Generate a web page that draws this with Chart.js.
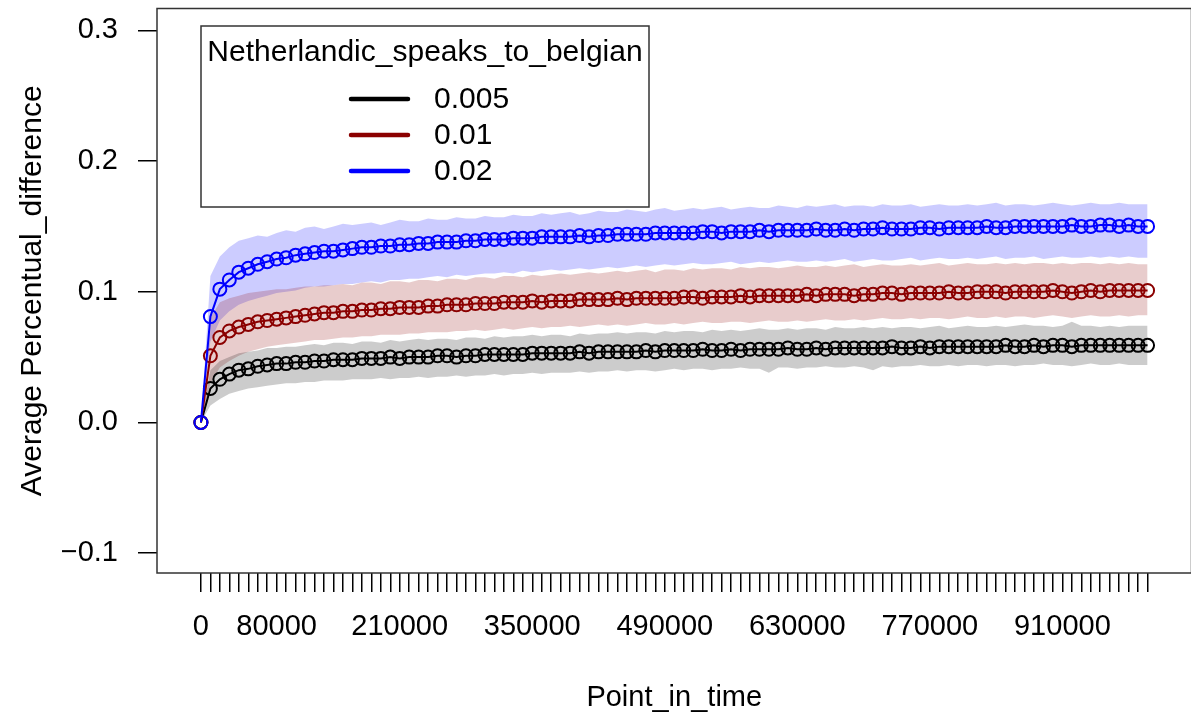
<!DOCTYPE html>
<html>
<head>
<meta charset="utf-8">
<script src="https://cdn.jsdelivr.net/npm/chart.js@4.4.1/dist/chart.umd.min.js"></script>
<style>
html,body{margin:0;padding:0;background:#fff;overflow:hidden;}
#wrap{width:1200px;height:715px;}
</style>
</head>
<body>
<div id="wrap"><canvas id="c" width="1200" height="715"></canvas></div>
<script>
const legendTitle = 'Netherlandic_speaks_to_belgian';
const seriesNames = ['0.005', '0.01', '0.02'];
const xTitle = 'Point_in_time';
const yTitle = 'Average Percentual_difference';

const pointInTime = [
0,10000,20000,30000,40000,50000,60000,70000,80000,90000,
100000,110000,120000,130000,140000,150000,160000,170000,180000,190000,
200000,210000,220000,230000,240000,250000,260000,270000,280000,290000,
300000,310000,320000,330000,340000,350000,360000,370000,380000,390000,
400000,410000,420000,430000,440000,450000,460000,470000,480000,490000,
500000,510000,520000,530000,540000,550000,560000,570000,580000,590000,
600000,610000,620000,630000,640000,650000,660000,670000,680000,690000,
700000,710000,720000,730000,740000,750000,760000,770000,780000,790000,
800000,810000,820000,830000,840000,850000,860000,870000,880000,890000,
900000,910000,920000,930000,940000,950000,960000,970000,980000,990000,
1000000];

const xTickLabels = ['0','80000','210000','350000','490000','630000','770000','910000'];
const yTickValues = [-0.1, 0.0, 0.1, 0.2, 0.3];
const yTickLabels = ['\u22120.1', '0.0', '0.1', '0.2', '0.3'];

const blackMean = [
0,0.026,0.033,0.037,0.040,0.041,0.043,0.044,0.045,0.045,
0.046,0.046,0.047,0.047,0.048,0.048,0.048,0.049,0.049,0.049,
0.050,0.049,0.050,0.050,0.050,0.051,0.051,0.050,0.051,0.051,
0.052,0.052,0.052,0.052,0.052,0.053,0.053,0.053,0.053,0.053,
0.054,0.053,0.054,0.054,0.054,0.054,0.054,0.055,0.054,0.055,
0.055,0.055,0.055,0.056,0.055,0.055,0.056,0.055,0.056,0.056,
0.056,0.056,0.057,0.056,0.056,0.057,0.056,0.057,0.057,0.057,
0.057,0.057,0.057,0.058,0.057,0.057,0.058,0.057,0.058,0.058,
0.058,0.058,0.058,0.058,0.058,0.059,0.058,0.058,0.059,0.058,
0.059,0.059,0.058,0.059,0.059,0.059,0.059,0.059,0.059,0.059,
0.059];
const blackUpper = [
0,0.040,0.047,0.050,0.053,0.054,0.055,0.057,0.057,0.058,
0.058,0.059,0.060,0.059,0.061,0.061,0.060,0.062,0.062,0.061,
0.063,0.062,0.063,0.064,0.063,0.064,0.064,0.063,0.065,0.065,
0.064,0.066,0.065,0.066,0.066,0.067,0.066,0.067,0.067,0.066,
0.068,0.067,0.068,0.068,0.069,0.068,0.069,0.069,0.068,0.070,
0.069,0.070,0.070,0.069,0.071,0.070,0.071,0.070,0.071,0.072,
0.071,0.071,0.072,0.071,0.072,0.072,0.071,0.073,0.072,0.072,
0.073,0.072,0.073,0.072,0.073,0.073,0.072,0.073,0.074,0.072,
0.073,0.074,0.073,0.073,0.074,0.073,0.074,0.075,0.074,0.074,
0.073,0.074,0.077,0.074,0.074,0.073,0.074,0.073,0.074,0.074,
0.074];
const blackLower = [
0,0.013,0.018,0.022,0.024,0.026,0.027,0.028,0.029,0.030,
0.030,0.031,0.031,0.032,0.032,0.032,0.033,0.033,0.033,0.034,
0.033,0.034,0.034,0.035,0.034,0.035,0.035,0.036,0.035,0.036,
0.036,0.037,0.036,0.037,0.037,0.038,0.037,0.038,0.038,0.038,
0.039,0.038,0.039,0.039,0.040,0.039,0.040,0.040,0.039,0.040,
0.041,0.040,0.041,0.041,0.040,0.041,0.041,0.042,0.041,0.041,
0.038,0.042,0.042,0.041,0.042,0.042,0.043,0.042,0.042,0.043,
0.042,0.040,0.043,0.042,0.043,0.043,0.044,0.043,0.043,0.044,
0.043,0.044,0.044,0.043,0.044,0.044,0.043,0.044,0.044,0.045,
0.044,0.044,0.043,0.044,0.045,0.044,0.044,0.045,0.044,0.044,
0.044];

const redMean = [
0,0.051,0.065,0.070,0.073,0.075,0.077,0.078,0.079,0.080,
0.081,0.082,0.083,0.084,0.084,0.085,0.085,0.086,0.086,0.087,
0.087,0.088,0.088,0.088,0.089,0.089,0.090,0.090,0.090,0.091,
0.091,0.091,0.092,0.092,0.092,0.093,0.092,0.093,0.093,0.093,
0.094,0.094,0.094,0.094,0.095,0.094,0.095,0.095,0.095,0.095,
0.095,0.096,0.096,0.095,0.096,0.096,0.096,0.097,0.096,0.097,
0.097,0.097,0.097,0.097,0.098,0.097,0.098,0.098,0.098,0.097,
0.098,0.098,0.099,0.099,0.098,0.099,0.099,0.099,0.099,0.100,
0.099,0.099,0.100,0.100,0.100,0.099,0.100,0.100,0.100,0.100,
0.101,0.100,0.099,0.100,0.101,0.100,0.101,0.101,0.101,0.101,
0.101];
const redUpper = [
0,0.080,0.092,0.095,0.097,0.099,0.100,0.101,0.102,0.102,
0.103,0.104,0.104,0.105,0.105,0.106,0.105,0.107,0.107,0.106,
0.108,0.108,0.107,0.109,0.109,0.108,0.110,0.110,0.109,0.111,
0.111,0.110,0.112,0.112,0.111,0.113,0.112,0.113,0.114,0.113,
0.114,0.115,0.114,0.115,0.116,0.115,0.116,0.117,0.115,0.117,
0.117,0.116,0.118,0.117,0.118,0.118,0.117,0.119,0.118,0.119,
0.119,0.118,0.119,0.120,0.119,0.119,0.120,0.119,0.120,0.121,
0.119,0.120,0.121,0.120,0.120,0.121,0.120,0.121,0.122,0.120,
0.121,0.122,0.121,0.121,0.122,0.121,0.122,0.121,0.122,0.122,
0.121,0.122,0.121,0.122,0.122,0.121,0.122,0.121,0.122,0.121,
0.121];
const redLower = [
0,0.030,0.042,0.047,0.051,0.054,0.056,0.058,0.059,0.060,
0.061,0.062,0.063,0.063,0.064,0.065,0.065,0.066,0.066,0.067,
0.067,0.067,0.068,0.068,0.069,0.069,0.069,0.070,0.070,0.071,
0.070,0.071,0.072,0.071,0.072,0.073,0.072,0.073,0.073,0.074,
0.073,0.074,0.075,0.074,0.075,0.074,0.075,0.076,0.075,0.075,
0.076,0.075,0.076,0.077,0.076,0.076,0.077,0.077,0.076,0.077,
0.078,0.077,0.077,0.078,0.077,0.078,0.079,0.078,0.078,0.079,
0.078,0.079,0.080,0.079,0.079,0.080,0.079,0.080,0.080,0.079,
0.080,0.081,0.080,0.080,0.081,0.080,0.081,0.081,0.080,0.081,
0.082,0.081,0.080,0.081,0.082,0.081,0.081,0.082,0.081,0.082,
0.082];

const blueMean = [
0,0.081,0.102,0.109,0.115,0.118,0.121,0.123,0.125,0.126,
0.128,0.129,0.130,0.131,0.131,0.132,0.133,0.134,0.134,0.135,
0.135,0.136,0.136,0.137,0.137,0.138,0.138,0.138,0.139,0.139,
0.140,0.140,0.140,0.141,0.141,0.141,0.142,0.142,0.142,0.142,
0.143,0.142,0.143,0.143,0.144,0.144,0.144,0.144,0.145,0.145,
0.145,0.145,0.145,0.146,0.146,0.145,0.146,0.146,0.146,0.147,
0.146,0.147,0.147,0.147,0.147,0.148,0.147,0.147,0.148,0.147,
0.148,0.148,0.149,0.148,0.148,0.148,0.149,0.149,0.148,0.149,
0.149,0.149,0.149,0.150,0.149,0.149,0.150,0.150,0.150,0.150,
0.150,0.150,0.151,0.150,0.150,0.151,0.151,0.150,0.151,0.150,
0.150];
const blueUpper = [
0,0.112,0.127,0.134,0.139,0.141,0.143,0.142,0.145,0.147,
0.146,0.149,0.150,0.148,0.150,0.152,0.151,0.152,0.153,0.151,
0.153,0.155,0.154,0.154,0.156,0.155,0.155,0.157,0.156,0.156,
0.158,0.157,0.157,0.159,0.158,0.158,0.160,0.159,0.160,0.161,
0.159,0.160,0.162,0.161,0.161,0.163,0.162,0.161,0.163,0.164,
0.162,0.163,0.164,0.163,0.164,0.165,0.163,0.164,0.165,0.164,
0.164,0.166,0.165,0.164,0.166,0.165,0.166,0.167,0.165,0.166,
0.166,0.165,0.167,0.166,0.166,0.167,0.165,0.166,0.167,0.166,
0.166,0.167,0.166,0.167,0.168,0.166,0.167,0.167,0.166,0.167,
0.168,0.167,0.166,0.167,0.168,0.167,0.167,0.168,0.167,0.167,
0.167];
const blueLower = [
0,0.062,0.078,0.085,0.090,0.093,0.095,0.097,0.099,0.100,
0.101,0.103,0.104,0.104,0.105,0.106,0.106,0.107,0.108,0.107,
0.109,0.109,0.110,0.110,0.111,0.112,0.111,0.113,0.112,0.113,
0.114,0.114,0.115,0.114,0.116,0.115,0.116,0.117,0.116,0.117,
0.118,0.117,0.118,0.119,0.118,0.119,0.120,0.119,0.120,0.121,
0.120,0.121,0.122,0.121,0.121,0.122,0.123,0.121,0.122,0.123,
0.122,0.123,0.124,0.123,0.123,0.124,0.123,0.124,0.125,0.123,
0.124,0.125,0.124,0.124,0.125,0.126,0.124,0.125,0.126,0.125,
0.125,0.126,0.125,0.126,0.127,0.125,0.126,0.126,0.127,0.125,
0.126,0.127,0.126,0.126,0.127,0.126,0.127,0.126,0.127,0.126,
0.126];

const FAMILY = "'Liberation Sans', Arial, sans-serif";
const FS = 29;
const FS_BIG = 30;
const lineColors = ['#000000', '#8B0000', '#0000FF'];
const bandColors = ['rgba(0,0,0,0.2)', 'rgba(139,0,0,0.2)', 'rgba(0,0,255,0.2)'];

function pts(arr) { return pointInTime.map((x, i) => ({x: x, y: arr[i]})); }

const means = [blackMean, redMean, blueMean];
const uppers = [blackUpper, redUpper, blueUpper];
const lowers = [blackLower, redLower, blueLower];

const datasets = [];
for (let s = 0; s < 3; s++) {
  datasets.push({
    label: seriesNames[s] + ' lower', data: pts(lowers[s]), order: 10,
    borderWidth: 0, pointRadius: 0, fill: false, borderColor: 'rgba(0,0,0,0)'
  });
  datasets.push({
    label: seriesNames[s] + ' upper', data: pts(uppers[s]), order: 10,
    borderWidth: 0, pointRadius: 0, fill: '-1', backgroundColor: bandColors[s], borderColor: 'rgba(0,0,0,0)'
  });
}
for (let s = 0; s < 3; s++) {
  datasets.push({
    label: seriesNames[s], data: pts(means[s]), order: 3 - s,
    borderColor: lineColors[s], borderWidth: 2, tension: 0, fill: false,
    pointRadius: 6.5, pointStyle: 'circle', pointBorderWidth: 2,
    pointBorderColor: lineColors[s], pointBackgroundColor: 'rgba(0,0,0,0)'
  });
}

const framePlugin = {
  id: 'frame',
  afterDraw(chart) {
    const {ctx, chartArea: a} = chart;
    ctx.save();
    ctx.strokeStyle = '#333';
    ctx.lineWidth = 1.5;
    ctx.strokeRect(a.left, a.top, a.right - a.left, a.bottom - a.top);
    // legend
    const lx = 201, ly = 26, lw = 448, lh = 181;
    ctx.strokeRect(lx, ly, lw, lh);
    ctx.fillStyle = '#000';
    ctx.font = FS_BIG + 'px ' + FAMILY;
    ctx.textBaseline = 'middle';
    ctx.textAlign = 'center';
    ctx.fillText(legendTitle, lx + lw / 2, 53);
    ctx.textAlign = 'left';
    const rows = [99, 135, 171];
    ctx.lineCap = 'round';
    ctx.lineWidth = 4.5;
    for (let s = 0; s < 3; s++) {
      ctx.strokeStyle = lineColors[s];
      ctx.beginPath();
      ctx.moveTo(351, rows[s]);
      ctx.lineTo(408, rows[s]);
      ctx.stroke();
      ctx.fillText(seriesNames[s], 434, rows[s] + 1);
    }
    ctx.restore();
  }
};

function zeroPad(scale) {
  scale.paddingTop = 0; scale.paddingBottom = 0;
  scale.paddingLeft = 0; scale.paddingRight = 0;
}

new Chart(document.getElementById('c'), {
  type: 'line',
  data: { datasets: datasets },
  options: {
    responsive: false,
    animation: false,
    events: [],
    layout: { padding: { top: 5, right: 7, left: 0, bottom: 0 } },
    plugins: { legend: { display: false }, tooltip: { enabled: false } },
    scales: {
      x: {
        type: 'linear',
        min: -46400, max: 1046400,
        afterBuildTicks(scale) { scale.ticks = pointInTime.map(v => ({ value: v })); },
        afterFit(scale) { scale.height = 142; zeroPad(scale); },
        ticks: {
          autoSkip: false, maxRotation: 0, minRotation: 0,
          padding: 18, color: '#000',
          font: { family: FAMILY, size: FS },
          callback(v) { const l = String(v); return xTickLabels.includes(l) ? l : ''; }
        },
        grid: { drawOnChartArea: false, drawTicks: true, tickLength: 19, color: '#000', lineWidth: 1.5 },
        border: { display: false },
        title: { display: true, text: xTitle, color: '#000', font: { family: FAMILY, size: FS }, padding: { top: 0, bottom: 0 } }
      },
      y: {
        type: 'linear',
        min: -0.11521, max: 0.31673,
        afterBuildTicks(scale) { scale.ticks = yTickValues.map(v => ({ value: v })); },
        afterFit(scale) { scale.width = 157; zeroPad(scale); },
        ticks: {
          padding: 20, color: '#000',
          font: { family: FAMILY, size: FS },
          callback(v, i) { return yTickLabels[i]; }
        },
        grid: { drawOnChartArea: false, drawTicks: true, tickLength: 19, color: '#000', lineWidth: 1.5 },
        border: { display: false },
        title: { display: true, text: yTitle, color: '#000', font: { family: FAMILY, size: FS_BIG }, padding: { top: 15, bottom: 0 } }
      }
    }
  },
  plugins: [framePlugin]
});
</script>
</body>
</html>
